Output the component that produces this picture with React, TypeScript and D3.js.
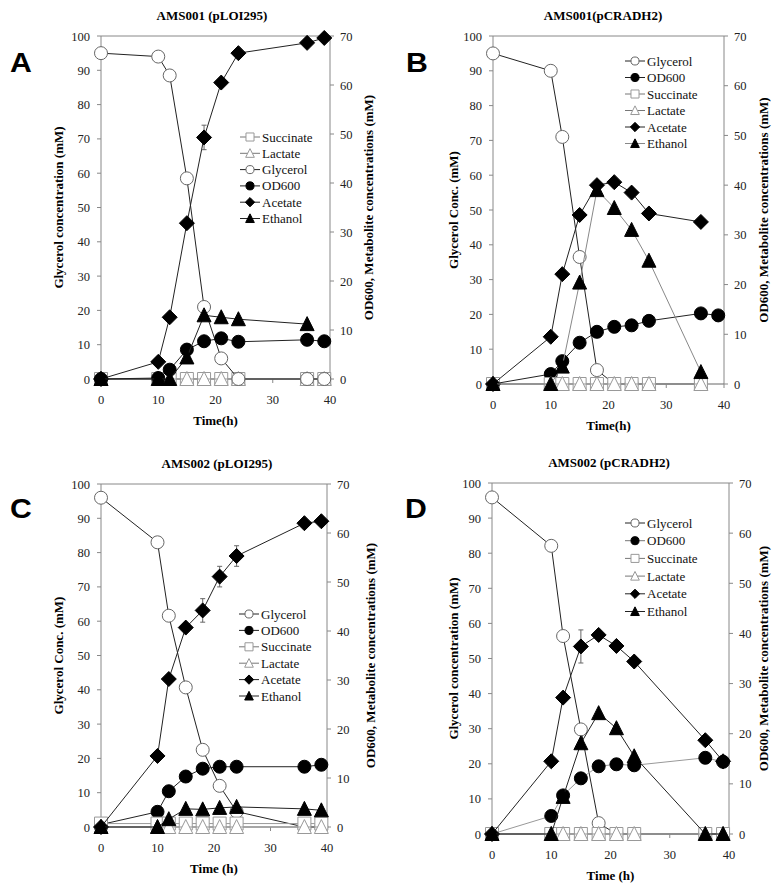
import React from "react";
import * as d3 from "d3";

// ---------- DATA ----------
const xTicks = [0, 10, 20, 30, 40];
const leftTicks = [0, 10, 20, 30, 40, 50, 60, 70, 80, 90, 100];
const rightTicks = [0, 10, 20, 30, 40, 50, 60, 70];

// Panel A: AMS001 (pLOI295)
const timesA = [0, 10, 12, 15, 18, 21, 24, 36, 39];
const glycerolA = [95, 94, 88.5, 58.5, 21, 6, 0, 0, 0];
const od600A = [0, 0.2, 1.9, 6, 7.7, 8.3, 7.6, 8, 7.7];
const acetateA = [0, 3.5, 12.6, 31.8, 49.3, 60.5, 66.5, 68.6, 69.6];
const ethanolA = [0, 0, 0, 4.4, 13, 12.6, 12.2, 11.2, null];
const succinateA = [0, 0, 0, 0, 0, 0, 0, 0, 0];
const lactateA = [0, 0, 0, 0, 0, 0, 0, 0, 0];
const acetateErrA = [null, null, null, null, 2.5, null, null, null, null];

// Panel B: AMS001(pCRADH2)
const timesB = [0, 10, 12, 15, 18, 21, 24, 27, 36, 39];
const glycerolB = [95, 90, 71, 36.5, 4, 0, 0, 0, 0, null];
const od600B = [0, 2, 4.6, 8.3, 10.5, 11.5, 11.8, 12.7, 14.2, 13.8];
const succinateB = [0, 0, 0, 0, 0, 0, 0, 0, 0, null];
const lactateB = [0, 0, 0, 0, 0, 0, 0, 0, 0, null];
const acetateB = [0, 9.5, 22.1, 34, 40, 40.6, 38.5, 34.3, 32.6, null];
const ethanolB = [0, 0, 3.5, 20.4, 39, 35.4, 31, 24.8, 2.4, null];

// Panel C: AMS002 (pLOI295)
const timesC = [0, 10, 12, 15, 18, 21, 24, 36, 39];
const glycerolC = [96, 83, 61.6, 40.7, 22.5, 12, 4.5, 0, 0];
const od600C = [0.5, 3.1, 7.3, 10.3, 11.9, 12.3, 12.3, 12.3, 12.7];
const succinateC = [0.7, 0.7, 0.7, 0.7, 0.7, 0.7, 0.7, 0.7, 0.7];
const lactateC = [0, 0, 0, 0, 0, 0, 0, 0, 0];
const acetateC = [0, 14.5, 30.2, 40.7, 44.2, 51.1, 55.3, 62, 62.4];
const ethanolC = [0, 0, 1.6, 3.7, 3.6, 3.9, 4.1, 3.7, 3.4];
const acetateErrC = [null, null, null, null, 2.4, 2.1, 2.1, null, null];

// Panel D: AMS002 (pCRADH2)
const timesD = [0, 10, 12, 15, 18, 21, 24, 36, 39];
const glycerolD = [95.9, 82.1, 56.4, 29.8, 3.1, 0, 0, 0, 0];
const od600D = [0, 3.6, 7.7, 11.1, 13.5, 13.9, 13.7, 15.2, 14.4];
const succinateD = [0, 0, 0, 0, 0, 0, 0, 0, 0];
const lactateD = [0, 0, 0, 0, 0, 0, 0, 0, 0];
const acetateD = [0, 14.5, 27.2, 37.4, 39.7, 37.5, 34.4, 18.7, 14.5];
const ethanolD = [0, 0, 7.4, 18.1, 24.1, 21.1, 15.5, 0, 0];
const acetateErrD = [null, null, null, 3.3, null, null, null, null, null];

// ---------- STYLE ----------
const SERIF = "'Liberation Serif', 'Times New Roman', Times, serif";
const SANS = "'Liberation Sans', Arial, Helvetica, sans-serif";

type Marker = "circle" | "square" | "diamond" | "triangle";
type S = {
  name: string;
  values: (number | null)[];
  axis: "L" | "R";
  marker: Marker;
  fill: string;
  stroke: string;
  line: string;
  err?: (number | null)[];
};

function mk(name: string, values: (number | null)[], lineColor?: string, err?: (number | null)[]): S {
  const base: Record<string, Omit<S, "name" | "values">> = {
    Glycerol: { axis: "L", marker: "circle", fill: "#fff", stroke: "#666", line: "#222" },
    OD600: { axis: "R", marker: "circle", fill: "#000", stroke: "#000", line: "#222" },
    Succinate: { axis: "R", marker: "square", fill: "#fff", stroke: "#999", line: "#999" },
    Lactate: { axis: "R", marker: "triangle", fill: "#fff", stroke: "#999", line: "#999" },
    Acetate: { axis: "R", marker: "diamond", fill: "#000", stroke: "#000", line: "#222" },
    Ethanol: { axis: "R", marker: "triangle", fill: "#000", stroke: "#000", line: "#222" },
  };
  const b = base[name];
  return { name, values, ...b, line: lineColor || b.line, err };
}

function markerPath(m: Marker, x: number, y: number, k: number) {
  if (m === "circle") {
    const r = 6.5 * k;
    return `M${x - r},${y}A${r},${r} 0 1,0 ${x + r},${y}A${r},${r} 0 1,0 ${x - r},${y}Z`;
  }
  if (m === "square") {
    const h = 6.5 * k;
    return `M${x - h},${y - h}H${x + h}V${y + h}H${x - h}Z`;
  }
  if (m === "diamond") {
    const h = 7.5 * k;
    return `M${x},${y - h}L${x + h},${y}L${x},${y + h}L${x - h},${y}Z`;
  }
  const w = 7 * k;
  const hh = 6.5 * k;
  return `M${x},${y - hh - 1 * k}L${x + w},${y + hh}L${x - w},${y + hh}Z`;
}

type Panel = {
  letter: string;
  lx: number;
  ly: number;
  title: string;
  tx: number;
  ty: number;
  x0: number;
  x40: number;
  yT: number;
  yB: number;
  yLabel: string;
  yLabelX: number;
  rLabelX: number;
  xLabel: string;
  times: number[];
  series: S[];
  legX: number;
  legY: number;
  legDy: number;
};

const panels: Panel[] = [
  {
    letter: "A", lx: 10, ly: 72, title: "AMS001 (pLOI295)", tx: 212, ty: 20,
    x0: 101, x40: 330, yT: 36, yB: 379,
    yLabel: "Glycerol concentration (mM)", yLabelX: 63, rLabelX: 373, xLabel: "Time(h)",
    times: timesA,
    series: [
      mk("Succinate", succinateA), mk("Lactate", lactateA), mk("Glycerol", glycerolA),
      mk("OD600", od600A), mk("Acetate", acetateA, undefined, acetateErrA), mk("Ethanol", ethanolA),
    ],
    legX: 240, legY: 137, legDy: 16.3,
  },
  {
    letter: "B", lx: 406, ly: 72, title: "AMS001(pCRADH2)", tx: 603, ty: 20,
    x0: 493, x40: 724, yT: 36, yB: 384,
    yLabel: "Glycerol Conc. (mM)", yLabelX: 458, rLabelX: 768, xLabel: "Time(h)",
    times: timesB,
    series: [
      mk("Glycerol", glycerolB), mk("OD600", od600B), mk("Succinate", succinateB),
      mk("Lactate", lactateB), mk("Acetate", acetateB), mk("Ethanol", ethanolB, "#888"),
    ],
    legX: 625, legY: 61, legDy: 16.5,
  },
  {
    letter: "C", lx: 10, ly: 518, title: "AMS002 (pLOI295)", tx: 217, ty: 468,
    x0: 101, x40: 327, yT: 484, yB: 827,
    yLabel: "Glycerol Conc. (mM)", yLabelX: 63, rLabelX: 375, xLabel: "Time (h)",
    times: timesC,
    series: [
      mk("Glycerol", glycerolC), mk("OD600", od600C), mk("Succinate", succinateC),
      mk("Lactate", lactateC), mk("Acetate", acetateC, undefined, acetateErrC), mk("Ethanol", ethanolC),
    ],
    legX: 239, legY: 614, legDy: 16.4,
  },
  {
    letter: "D", lx: 405, ly: 518, title: "AMS002 (pCRADH2)", tx: 609, ty: 467,
    x0: 492, x40: 729, yT: 483, yB: 834,
    yLabel: "Glycerol concentration (mM)", yLabelX: 458, rLabelX: 768, xLabel: "Time (h)",
    times: timesD,
    series: [
      mk("Glycerol", glycerolD), mk("OD600", od600D, "#999"), mk("Succinate", succinateD),
      mk("Lactate", lactateD), mk("Acetate", acetateD, undefined, acetateErrD), mk("Ethanol", ethanolD),
    ],
    legX: 625, legY: 523, legDy: 17.7,
  },
];

function PanelView({ p }: { p: Panel }) {
  const x = d3.scaleLinear().domain([0, 40]).range([p.x0, p.x40]);
  const yL = d3.scaleLinear().domain([0, 100]).range([p.yB, p.yT]);
  const yR = d3.scaleLinear().domain([0, 70]).range([p.yB, p.yT]);
  const midY = (p.yT + p.yB) / 2;
  const axisColor = "#888";

  return (
    <g>
      <text transform={`translate(${p.lx},${p.ly}) scale(1.12,1)`} fontFamily={SANS} fontSize={27} fontWeight="bold" fill="#000">{p.letter}</text>
      <text x={p.tx} y={p.ty} fontFamily={SERIF} fontSize={13} fontWeight="bold" textAnchor="middle">{p.title}</text>

      {/* frame */}
      <line x1={p.x0} x2={p.x40} y1={p.yT} y2={p.yT} stroke={axisColor} strokeWidth={1} />
      <line x1={p.x0} x2={p.x0} y1={p.yT} y2={p.yB} stroke={axisColor} strokeWidth={1} />
      <line x1={p.x40} x2={p.x40} y1={p.yT} y2={p.yB} stroke={axisColor} strokeWidth={1} />
      <line x1={p.x0} x2={p.x40} y1={p.yB} y2={p.yB} stroke="#666" strokeWidth={1} />

      {leftTicks.map((t) => (
        <g key={"l" + t}>
          <line x1={p.x0 - 4} x2={p.x0} y1={yL(t)} y2={yL(t)} stroke={axisColor} />
          <text x={p.x0 - 11} y={yL(t) + 4.5} fontFamily={SERIF} fontSize={12.5} textAnchor="end" fill="#222">{t}</text>
        </g>
      ))}
      {rightTicks.map((t) => (
        <g key={"r" + t}>
          <line x1={p.x40} x2={p.x40 + 4} y1={yR(t)} y2={yR(t)} stroke={axisColor} />
          <text x={p.x40 + 10} y={yR(t) + 4.5} fontFamily={SERIF} fontSize={12.5} textAnchor="start" fill="#222">{t}</text>
        </g>
      ))}
      {xTicks.map((t) => (
        <g key={"x" + t}>
          <line x1={x(t)} x2={x(t)} y1={p.yB} y2={p.yB + 4} stroke={axisColor} />
          <text x={x(t)} y={p.yB + 25} fontFamily={SERIF} fontSize={12.5} textAnchor="middle" fill="#222">{t}</text>
        </g>
      ))}

      <text transform={`translate(${p.yLabelX},${midY}) rotate(-90)`} fontFamily={SERIF} fontSize={13} fontWeight="bold" textAnchor="middle">{p.yLabel}</text>
      <text transform={`translate(${p.rLabelX},${midY}) rotate(-90)`} fontFamily={SERIF} fontSize={13} fontWeight="bold" textAnchor="middle">OD600, Metabolite concentrations (mM)</text>
      <text x={(p.x0 + p.x40) / 2} y={p.yB + 46} fontFamily={SERIF} fontSize={13} fontWeight="bold" textAnchor="middle">{p.xLabel}</text>

      {p.series.map((s) => {
        const ys = s.axis === "L" ? yL : yR;
        const pts = p.times.map((t, i) => [t, s.values[i]] as [number, number | null]);
        const line = d3
          .line<[number, number | null]>()
          .defined((d) => d[1] !== null && d[1] !== undefined)
          .x((d) => x(d[0]))
          .y((d) => ys(d[1] as number));
        return (
          <g key={s.name}>
            <path d={line(pts) || ""} fill="none" stroke={s.line} strokeWidth={1} />
            {s.err &&
              pts.map(([t, v], i) => {
                const e = s.err![i];
                if (e == null || v == null) return null;
                return (
                  <g key={"e" + i} stroke="#666" strokeWidth={1}>
                    <line x1={x(t)} x2={x(t)} y1={ys(v - e)} y2={ys(v + e)} />
                    <line x1={x(t) - 2.5} x2={x(t) + 2.5} y1={ys(v - e)} y2={ys(v - e)} />
                    <line x1={x(t) - 2.5} x2={x(t) + 2.5} y1={ys(v + e)} y2={ys(v + e)} />
                  </g>
                );
              })}
            {pts.map(([t, v], i) =>
              v == null ? null : (
                <path key={i} d={markerPath(s.marker, x(t), ys(v), 1)} fill={s.fill} stroke={s.stroke} strokeWidth={1} />
              )
            )}
          </g>
        );
      })}

      {/* legend */}
      {p.series.map((s, i) => {
        const cy = p.legY + i * p.legDy;
        return (
          <g key={"lg" + s.name}>
            <line x1={p.legX} x2={p.legX + 20} y1={cy} y2={cy} stroke={s.line === "#999" ? "#777" : s.line} strokeWidth={1} />
            <path d={markerPath(s.marker, p.legX + 10, cy, 0.62)} fill={s.fill} stroke={s.stroke} strokeWidth={1} />
            <text x={p.legX + 22} y={cy + 4.5} fontFamily={SERIF} fontSize={13} fill="#111">{s.name}</text>
          </g>
        );
      })}
    </g>
  );
}

export default function App() {
  return (
    <svg width={779} height={888} style={{ position: "absolute", left: 0, top: 0, background: "#fff" }}>
      <rect x={0} y={0} width={779} height={888} fill="#fff" />
      {panels.map((p) => (
        <PanelView key={p.letter} p={p} />
      ))}
    </svg>
  );
}
